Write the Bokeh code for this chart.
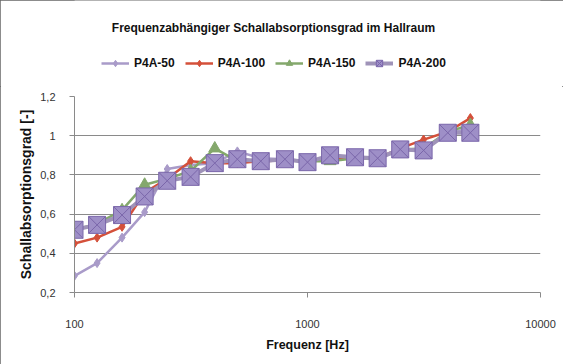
from bokeh.plotting import figure
from bokeh.models import (Legend, LegendItem, FixedTicker, CustomJSTickFormatter, Label)
from bokeh.layouts import column
from bokeh.embed import file_html
from bokeh.resources import INLINE

freqs = [100, 125, 160, 200, 250, 315, 400, 500, 630, 800, 1000, 1250, 1600, 2000, 2500, 3150, 4000, 5000]
p4a_50 = [0.285, 0.35, 0.48, 0.61, 0.83, 0.85, 0.86, 0.92, 0.885, 0.88, 0.87, 0.89, 0.885, 0.88, 0.925, 0.93, 1.01, 1.04]
p4a_100 = [0.45, 0.48, 0.535, 0.71, 0.78, 0.87, 0.86, 0.86, 0.87, 0.875, 0.87, 0.885, 0.89, 0.885, 0.935, 0.98, 1.02, 1.09]
p4a_150 = [0.52, 0.55, 0.62, 0.75, 0.78, 0.82, 0.935, 0.87, 0.875, 0.875, 0.87, 0.87, 0.885, 0.885, 0.93, 0.935, 1.02, 1.055]
p4a_200 = [0.52, 0.545, 0.595, 0.69, 0.77, 0.79, 0.86, 0.88, 0.87, 0.88, 0.865, 0.90, 0.89, 0.885, 0.93, 0.925, 1.015, 1.015]
series_names = ["P4A-50", "P4A-100", "P4A-150", "P4A-200"]
title_text = "Frequenzabhängiger Schallabsorptionsgrad im Hallraum"
y_ticks = [0.2, 0.4, 0.6, 0.8, 1.0, 1.2]
x_ticks = [100, 1000, 10000]
all_series = [p4a_50, p4a_100, p4a_150, p4a_200]

FONT = "Liberation Sans"

c50 = "#a99bc9"
c100 = "#d4503a"
c150 = "#84a86c"
c200l = "#9f93b8"
c200f = "#9e8fc7"
c200x = "#7a66aa"

styles = [
    dict(line=dict(line_color=c50, line_width=2.5),
         mk=dict(marker="diamond", size=9, fill_color=c50, line_color=c50)),
    dict(line=dict(line_color=c100, line_width=2.5),
         mk=dict(marker="diamond", size=9, fill_color=c100, line_color=c100)),
    dict(line=dict(line_color=c150, line_width=2.5),
         mk=dict(marker="triangle", size=12, fill_color=c150, line_color=c150)),
    dict(line=dict(line_color=c200l, line_width=4),
         mk=dict(marker="square_x", size=17, fill_color=c200f, line_color=c200x, line_width=1)),
]

# ---------- header (title + legend); its ranges keep the data out of view ----------
top = figure(width=563, height=86, x_range=(0, 1), y_range=(5, 6),
             x_axis_location=None, y_axis_location=None,
             output_backend="svg", toolbar_location=None,
             min_border_left=74, min_border_right=23, min_border_top=0, min_border_bottom=0)
top.outline_line_color = None
top.grid.visible = False
top.border_fill_color = "white"

top.add_layout(Label(x=199, y=59, x_units="screen", y_units="screen", text=title_text,
                     text_align="center", text_baseline="middle", text_font=FONT,
                     text_font_size="12px", text_font_style="bold", text_color="#111111"))

items = []
for name, vals, st in zip(series_names, all_series, styles):
    r_l = top.line(freqs, vals, **st["line"])
    r_m = top.scatter(freqs, vals, **st["mk"])
    items.append(LegendItem(label=name, renderers=[r_l, r_m]))

legend = Legend(items=items, orientation="horizontal", location=(27, 15),
                label_text_font=FONT, label_text_font_size="12px", label_text_font_style="bold",
                label_text_color="#111111", glyph_width=28, glyph_height=16, label_standoff=5,
                spacing=10, padding=2, margin=0, border_line_color=None, background_fill_alpha=0)
top.add_layout(legend, "center")

# ---------- main plot ----------
p = figure(width=563, height=278, x_axis_type="log", x_range=(100, 10000), y_range=(0.2, 1.2),
           output_backend="svg", toolbar_location=None,
           min_border_left=74, min_border_right=23, min_border_bottom=72, min_border_top=10)
p.outline_line_color = None
p.background_fill_color = "white"
p.border_fill_color = "white"

p.xgrid.grid_line_color = None
p.ygrid.grid_line_color = "#8a8a8a"
p.ygrid.grid_line_width = 1

p.yaxis.ticker = FixedTicker(ticks=y_ticks)
p.yaxis.formatter = CustomJSTickFormatter(code="""
const v = Math.round(tick*10)/10;
return v.toString().replace('.', ',');
""")
p.xaxis.ticker = FixedTicker(ticks=x_ticks, minor_ticks=[])
p.xaxis.formatter = CustomJSTickFormatter(code="return Math.round(tick).toString();")

for ax in (p.xaxis[0], p.yaxis[0]):
    ax.axis_line_color = "#8a8a8a"
    ax.major_tick_line_color = "#8a8a8a"
    ax.minor_tick_line_color = None
    ax.major_tick_in = 0
    ax.major_tick_out = 5
    ax.major_label_text_font = FONT
    ax.major_label_text_font_size = "11px"
    ax.major_label_text_color = "#333333"
    ax.axis_label_text_font = FONT
    ax.axis_label_text_font_style = "bold"
    ax.axis_label_text_color = "#111111"

p.yaxis.axis_label = "Schallabsorptionsgrad [-]"
p.yaxis.axis_label_text_font_size = "14px"
p.yaxis.major_label_standoff = 14
p.yaxis.axis_label_standoff = 3
p.xaxis.axis_label = "Frequenz [Hz]"
p.xaxis.axis_label_text_font_size = "12.5px"
p.xaxis.major_label_standoff = 22
p.xaxis.axis_label_standoff = 7

for vals, st in zip(all_series, styles):
    p.line(freqs, vals, **st["line"])
    p.scatter(freqs, vals, **st["mk"])

layout = column(top, p, spacing=0,
                styles={"outline": "1px solid #666666", "outline-offset": "-1px"})
open("out.html", "w").write(file_html(layout, INLINE))
